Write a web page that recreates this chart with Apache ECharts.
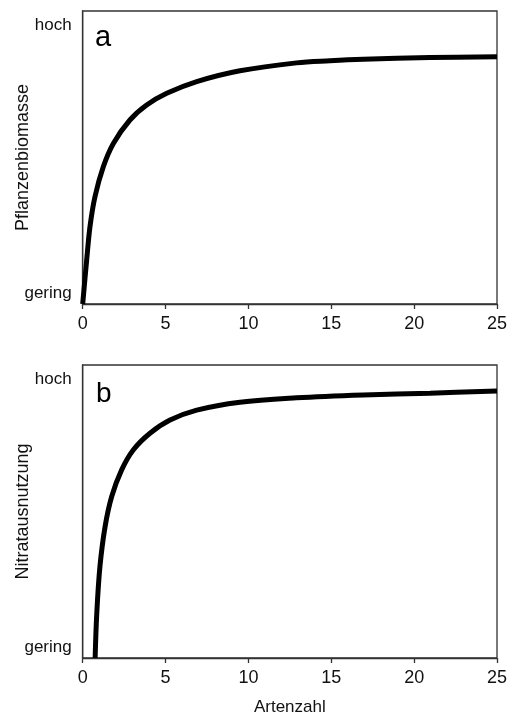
<!DOCTYPE html>
<html>
<head>
<meta charset="utf-8">
<script src="https://cdn.jsdelivr.net/npm/echarts@6/dist/echarts.min.js"></script>
<style>
html,body{margin:0;padding:0;background:#fff;}
#chart{width:511px;height:718px;}
</style>
</head>
<body>
<div id="chart"></div>
<script>
// Panel a: Pflanzenbiomasse vs Artenzahl
var xA = [0, 0.24, 0.44, 0.74, 1.24, 1.85, 2.85, 3.86, 5.07, 6.88, 9.49, 12.9, 14.92, 16.93, 20.96, 25];
var yA = [0, 0.15, 0.264, 0.366, 0.468, 0.548, 0.628, 0.679, 0.719, 0.759, 0.796, 0.823, 0.830, 0.835, 0.841, 0.844];
// Panel b: Nitratausnutzung vs Artenzahl
var xB = [0.75, 0.85, 1.04, 1.35, 1.75, 2.35, 3.05, 4.06, 5.27, 6.88, 9.49, 12.9, 16.93, 20.96, 25];
var yB = [0, 0.153, 0.312, 0.448, 0.551, 0.642, 0.710, 0.767, 0.812, 0.846, 0.873, 0.888, 0.898, 0.904, 0.911];
var xTicks = [0, 5, 10, 15, 20, 25];
var yLabelLow = 'gering', yLabelHigh = 'hoch';
var panelLabels = ['a', 'b'];
var yNames = ['Pflanzenbiomasse', 'Nitratausnutzung'];
var xName = 'Artenzahl';

var FONT = 'Liberation Sans, Arial, sans-serif';
function pairs(xs, ys){ return xs.map(function(x,i){ return [x, ys[i]]; }); }

var axisLineStyle = {color:'#333', width:1.3};
function makeX(idx, withName){
  return {
    type:'value', gridIndex:idx, min:xTicks[0], max:xTicks[xTicks.length-1], interval:5,
    axisLine:{show:true, lineStyle:axisLineStyle},
    axisTick:{show:true, length:5, inside:false, lineStyle:axisLineStyle},
    axisLabel:{color:'#111', fontSize:18, fontFamily:FONT, margin:11},
    splitLine:{show:false},
    name: withName ? xName : '',
    nameLocation:'middle', nameGap:41, nameMoveOverlap:false,
    nameTextStyle:{color:'#111', fontSize:17, fontFamily:FONT}
  };
}
function makeY(idx){
  return {
    type:'value', gridIndex:idx, min:0, max:1, interval:1,
    axisLine:{show:true, lineStyle:axisLineStyle},
    axisTick:{show:false},
    splitLine:{show:false},
    axisLabel:{
      color:'#111', fontSize:17, fontFamily:FONT, margin:11,
      formatter:function(v){ return v === 1 ? '{hi|' + yLabelHigh + '}' : '{lo|' + yLabelLow + '}'; },
      rich:{
        hi:{fontSize:17, fontFamily:FONT, color:'#111', padding:[29,0,0,0]},
        lo:{fontSize:17, fontFamily:FONT, color:'#111', padding:[0,0,22,0]}
      }
    },
    name: yNames[idx], nameLocation:'middle', nameGap:51, nameRotate:90, nameMoveOverlap:false,
    nameTextStyle:{color:'#111', fontSize:18, fontFamily:FONT}
  };
}
function makeSeries(idx, xs, ys){
  return {
    type:'line', xAxisIndex:idx, yAxisIndex:idx, data:pairs(xs, ys),
    smooth:0.35, showSymbol:false, symbol:'none', clip:true,
    lineStyle:{color:'#000', width:5}, animation:false
  };
}

var chart = echarts.init(document.getElementById('chart'), null, {renderer:'canvas'});
chart.setOption({
  backgroundColor:'#fff',
  animation:false,
  title:[
    {text:panelLabels[0], left:90, top:18, textStyle:{fontSize:29, fontWeight:'normal', color:'#000', fontFamily:FONT}},
    {text:panelLabels[1], left:91, top:375, textStyle:{fontSize:28, fontWeight:'normal', color:'#000', fontFamily:FONT}}
  ],
  grid:[
    {left:82.7, right:14, top:11, height:293, show:true, borderColor:'#333', borderWidth:1.3, backgroundColor:'transparent', outerBoundsMode:'none', containLabel:false},
    {left:82.7, right:14, top:365, height:293, show:true, borderColor:'#333', borderWidth:1.3, backgroundColor:'transparent', outerBoundsMode:'none', containLabel:false}
  ],
  xAxis:[makeX(0,false), makeX(1,true)],
  yAxis:[makeY(0), makeY(1)],
  series:[makeSeries(0, xA, yA), makeSeries(1, xB, yB)]
});
</script>
</body>
</html>
